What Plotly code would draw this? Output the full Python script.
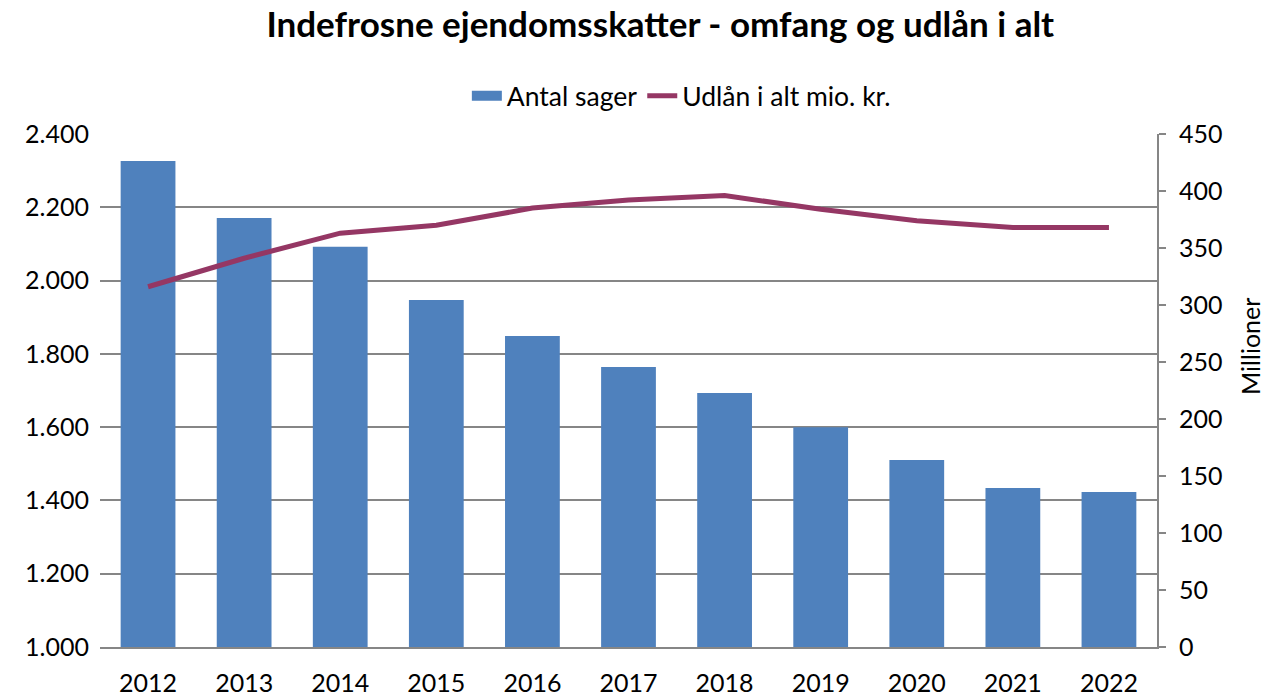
import plotly.graph_objects as go

years = ["2012", "2013", "2014", "2015", "2016", "2017", "2018", "2019", "2020", "2021", "2022"]
antal_sager = [2326, 2171, 2092, 1947, 1849, 1764, 1693, 1600, 1510, 1434, 1423]
udlaan_mio = [316, 341, 363, 370, 385, 392, 396, 384, 374, 368, 368]
left_ticks = [1000, 1200, 1400, 1600, 1800, 2000, 2200, 2400]
left_labels = ["1.000", "1.200", "1.400", "1.600", "1.800", "2.000", "2.200", "2.400"]
right_ticks = [0, 50, 100, 150, 200, 250, 300, 350, 400, 450]

FONT = "Lato"
FS = 25
BLUE = "#4F81BD"
PURPLE = "#953764"

fig = go.Figure()
fig.add_trace(go.Bar(x=years, y=antal_sager, name="Antal sager",
                     marker=dict(color=BLUE, line=dict(width=0)),
                     showlegend=False))
# legend entry for bars drawn as a wide block, like the reference
fig.add_trace(go.Scatter(x=[None], y=[None], name="Antal sager", mode="lines",
                         line=dict(color=BLUE, width=15), showlegend=True))
fig.add_trace(go.Scatter(x=years, y=udlaan_mio, name="Udlån i alt mio. kr.",
                         mode="lines", yaxis="y2",
                         line=dict(color=PURPLE, width=5)))

fig.update_layout(
    width=1269, height=695,
    margin=dict(l=92, r=120, t=126, b=56),
    plot_bgcolor="white", paper_bgcolor="white",
    font=dict(family=FONT, size=FS, color="black"),
    bargap=0.43,
    title=dict(text="<b>Indefrosne ejendomsskatter - omfang og udlån i alt</b>",
               x=0.514, xanchor="center", y=1, yanchor="top", yref="container",
               pad=dict(t=4),
               font=dict(family=FONT, size=35, color="black")),
    legend=dict(orientation="h", x=0.55, xanchor="center", y=1.074, yanchor="middle",
                font=dict(family=FONT, size=26.5), traceorder="normal",
                itemwidth=30, tracegroupgap=0),
    xaxis=dict(showgrid=False, showline=True, linecolor="#868686", linewidth=2,
               ticks="", ticklabelstandoff=13, automargin=False, tickfont=dict(size=FS)),
    yaxis=dict(range=[1000, 2400], tickvals=left_ticks, ticktext=left_labels,
               showgrid=True, gridcolor="#868686", gridwidth=2, zeroline=False,
               showline=False, ticks="", ticklabelstandoff=10, automargin=False,
               tickfont=dict(size=FS)),
    yaxis2=dict(range=[0, 450], tickvals=right_ticks, overlaying="y", side="right",
                showgrid=False, showline=True, linecolor="#868686", linewidth=2,
                ticks="outside", ticklen=7, tickcolor="#868686", tickwidth=2,
                ticklabelstandoff=8, zeroline=False, automargin=False,
                tickfont=dict(size=FS)),
    annotations=[dict(text="Millioner", xref="paper", yref="paper", x=1.088, y=0.585,
                      xanchor="center", yanchor="middle", textangle=-90,
                      showarrow=False, font=dict(family=FONT, size=FS))],
)
fig.write_html("out.html")
